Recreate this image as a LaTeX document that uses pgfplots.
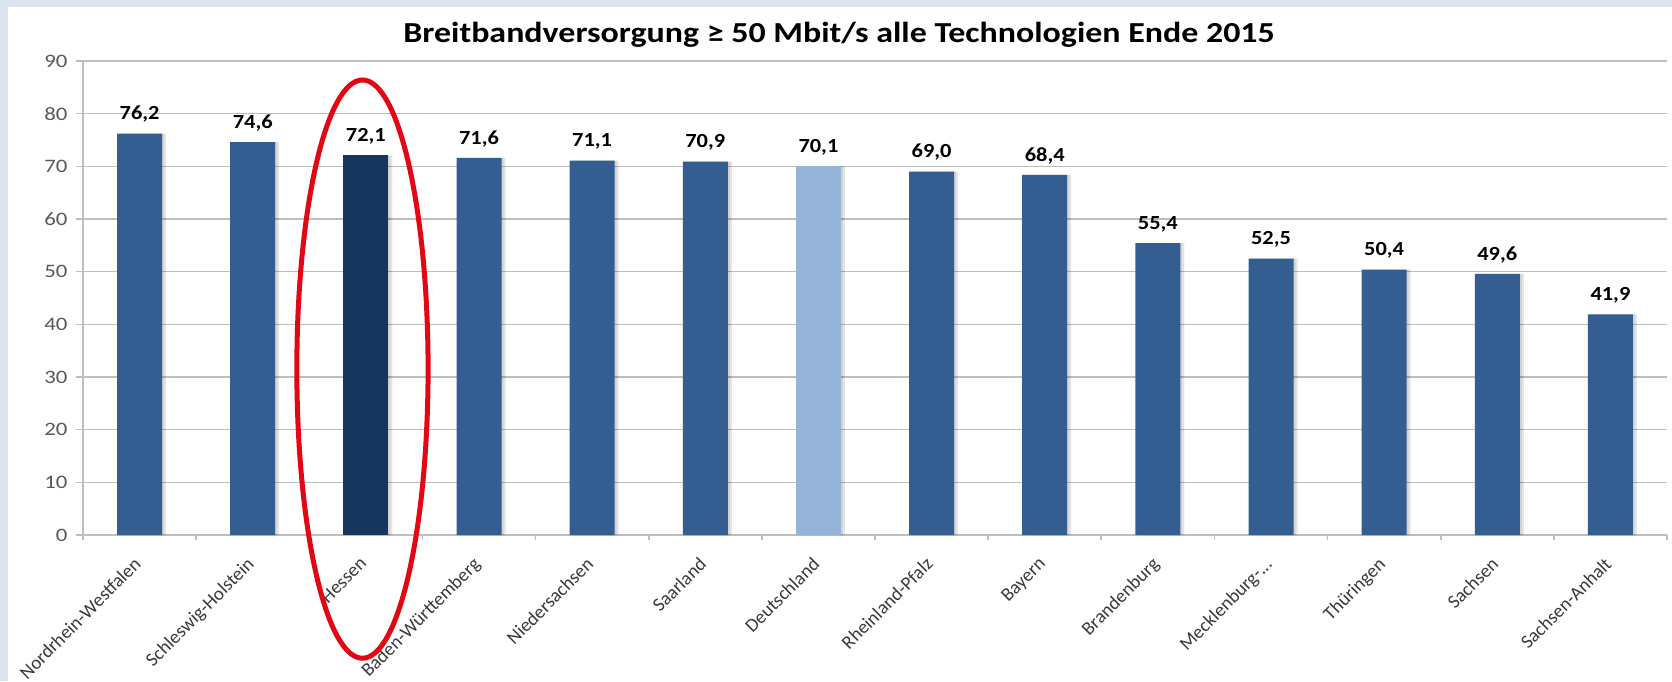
\documentclass[border=0pt]{standalone}
\usepackage{graphicx}
\usepackage{pgfplots}
\pgfplotsset{compat=1.18}
\usepackage{fontspec}
\setmainfont{Carlito}
\definecolor{bgc}{HTML}{DCE4EE}
\definecolor{barblue}{HTML}{345E92}
\definecolor{hessen}{HTML}{17365D}
\definecolor{dtl}{HTML}{95B3D7}
\definecolor{ellred}{HTML}{E30613}
\definecolor{gridgray}{HTML}{BEBEBE}
\definecolor{tickgray}{HTML}{595959}
\definecolor{labgray}{HTML}{3A3A3A}
\pgfplotstableread{
x y
0 76.2
1 74.6
2 72.1
3 71.6
4 71.1
5 70.9
6 70.1
7 69.0
8 68.4
9 55.4
10 52.5
11 50.4
12 49.6
13 41.9
}\alldata
\begin{document}
\begin{tikzpicture}[x=1pt,y=1pt]
\fill[bgc] (0,0) rectangle (836,340.5);
\fill[white] (4,0) rectangle (836,337);
\begin{axis}[
  at={(41.5pt,73pt)}, anchor=south west,
  scale only axis, width=792pt, height=237pt,
  xmin=-0.5, xmax=13.5, ymin=0, ymax=90,
  clip=false,
  ybar, bar width=22.5pt, bar shift=0pt,
  axis x line*=bottom, axis y line*=left,
  axis line style={gridgray, line width=0.8pt, -},
  ymajorgrids, grid style={gridgray, line width=0.8pt},
  ytick={0,10,...,90},
  xtick={0,1,2,3,4,5,6,7,8,9,10,11,12,13},
  xticklabels={Nordrhein-Westfalen,Schleswig-Holstein,Hessen,Baden-Württemberg,Niedersachsen,Saarland,Deutschland,Rheinland-Pfalz,Bayern,Brandenburg,{Mecklenburg-.{}.{}.},Thüringen,Sachsen,Sachsen-Anhalt},
  minor xtick={-0.5,0.5,...,13.5},
  tick align=outside,
  major x tick style={draw=none},
  minor x tick style={gridgray, line width=0.8pt},
  major y tick style={gridgray, line width=0.8pt},
  major tick length=3.5pt, minor tick length=2.5pt,
  /pgf/number format/assume math mode=true,
  yticklabel style={font=\fontsize{9.5}{12}\selectfont, text=tickgray, xscale=1.2},
  xticklabel style={rotate=45, anchor=north east, font=\fontsize{9.5}{12}\selectfont, text=labgray, yshift=1pt, xshift=-4pt},
  nodes near coords style={font=\bfseries\fontsize{10}{12}\selectfont, text=black, anchor=south, yshift=2pt, xscale=1.12,
    /pgf/number format/.cd, use comma, fixed, fixed zerofill, precision=1, assume math mode=true},
  title={\bfseries\fontsize{14.5}{17}\selectfont Breitbandversorgung ≥ 50 Mbit/s alle Technologien Ende 2015},
  title style={at={(0.4773,1.013)}, anchor=base, inner sep=0pt, xscale=1.17},
]
% soft shadow on the right of each bar
\addplot[fill=black, fill opacity=0.10, draw=none, bar shift=2pt] table[x=x,y=y] {\alldata};
\addplot[fill=black, fill opacity=0.08, draw=none, bar shift=1pt] table[x=x,y=y] {\alldata};
\addplot[fill=barblue, draw=none, nodes near coords] coordinates {(0,76.2)(1,74.6)(3,71.6)(4,71.1)(5,70.9)(7,69.0)(8,68.4)(9,55.4)(10,52.5)(11,50.4)(12,49.6)(13,41.9)};
\addplot[fill=hessen, draw=none, nodes near coords] coordinates {(2,72.1)};
\addplot[fill=dtl, draw=none, nodes near coords] coordinates {(6,70.1)};
\draw[ellred, line width=2.5pt] (axis cs:1.97,31.5) ellipse [x radius=0.58, y radius=54.9];
\end{axis}
\pgfresetboundingbox
\path (0,0) rectangle (836,340.5);
\end{tikzpicture}
\end{document}
